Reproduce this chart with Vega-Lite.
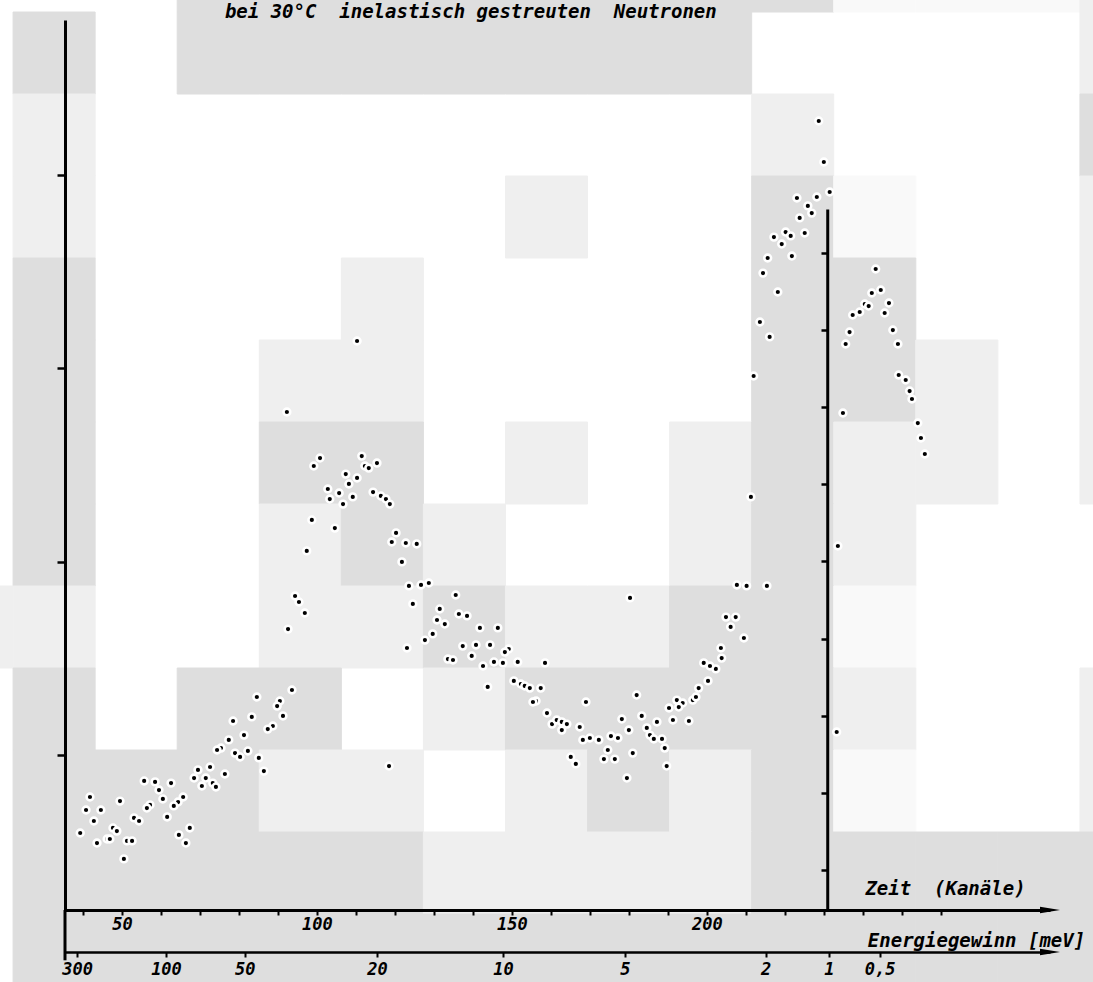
{
  "$schema": "https://vega.github.io/schema/vega-lite/v6.json",
  "width": 985,
  "height": 890,
  "autosize": {"type": "none"},
  "padding": {"left": 65, "top": 20, "right": 43, "bottom": 72},
  "background": "white",
  "view": {"stroke": null},
  "config": {
    "axis": {
      "domainColor": "black", "tickColor": "black", "labelColor": "black", "titleColor": "black",
      "grid": false, "labelFont": "DejaVu Sans Mono", "titleFont": "DejaVu Sans Mono",
      "labelFontStyle": "italic", "titleFontStyle": "italic", "labelFontWeight": "bold", "titleFontWeight": "bold"
    }
  },
  "datasets": {
    "bg": [
      {"col": 2, "row": 0, "shade": "D"}, {"col": 3, "row": 0, "shade": "D"}, {"col": 4, "row": 0, "shade": "D"}, {"col": 5, "row": 0, "shade": "D"}, {"col": 6, "row": 0, "shade": "D"}, {"col": 7, "row": 0, "shade": "D"}, {"col": 8, "row": 0, "shade": "D"}, {"col": 9, "row": 0, "shade": "D"}, {"col": 10, "row": 0, "shade": "F"}, {"col": 11, "row": 0, "shade": "F"}, {"col": 12, "row": 0, "shade": "F"}, {"col": 13, "row": 0, "shade": "L"},
      {"col": 0, "row": 1, "shade": "D"}, {"col": 2, "row": 1, "shade": "D"}, {"col": 3, "row": 1, "shade": "D"}, {"col": 4, "row": 1, "shade": "D"}, {"col": 5, "row": 1, "shade": "D"}, {"col": 6, "row": 1, "shade": "D"}, {"col": 7, "row": 1, "shade": "D"}, {"col": 8, "row": 1, "shade": "D"}, {"col": 13, "row": 1, "shade": "L"},
      {"col": 0, "row": 2, "shade": "L"}, {"col": 9, "row": 2, "shade": "L"}, {"col": 13, "row": 2, "shade": "D"},
      {"col": 0, "row": 3, "shade": "L"}, {"col": 6, "row": 3, "shade": "L"}, {"col": 9, "row": 3, "shade": "D"}, {"col": 10, "row": 3, "shade": "F"}, {"col": 13, "row": 3, "shade": "L"},
      {"col": 0, "row": 4, "shade": "D"}, {"col": 4, "row": 4, "shade": "L"}, {"col": 9, "row": 4, "shade": "D"}, {"col": 10, "row": 4, "shade": "D"}, {"col": 13, "row": 4, "shade": "L"},
      {"col": 0, "row": 5, "shade": "D"}, {"col": 3, "row": 5, "shade": "L"}, {"col": 4, "row": 5, "shade": "L"}, {"col": 9, "row": 5, "shade": "D"}, {"col": 10, "row": 5, "shade": "D"}, {"col": 11, "row": 5, "shade": "L"}, {"col": 13, "row": 5, "shade": "L"},
      {"col": 0, "row": 6, "shade": "D"}, {"col": 3, "row": 6, "shade": "D"}, {"col": 4, "row": 6, "shade": "D"}, {"col": 6, "row": 6, "shade": "L"}, {"col": 8, "row": 6, "shade": "L"}, {"col": 9, "row": 6, "shade": "D"}, {"col": 10, "row": 6, "shade": "L"}, {"col": 11, "row": 6, "shade": "L"}, {"col": 13, "row": 6, "shade": "L"},
      {"col": 0, "row": 7, "shade": "D"}, {"col": 3, "row": 7, "shade": "L"}, {"col": 4, "row": 7, "shade": "D"}, {"col": 5, "row": 7, "shade": "L"}, {"col": 8, "row": 7, "shade": "L"}, {"col": 9, "row": 7, "shade": "D"}, {"col": 10, "row": 7, "shade": "L"},
      {"col": -1, "row": 8, "shade": "L"}, {"col": 0, "row": 8, "shade": "L"}, {"col": 3, "row": 8, "shade": "L"}, {"col": 4, "row": 8, "shade": "L"}, {"col": 5, "row": 8, "shade": "D"}, {"col": 6, "row": 8, "shade": "L"}, {"col": 7, "row": 8, "shade": "L"}, {"col": 8, "row": 8, "shade": "D"}, {"col": 9, "row": 8, "shade": "D"}, {"col": 10, "row": 8, "shade": "F"},
      {"col": 0, "row": 9, "shade": "D"}, {"col": 2, "row": 9, "shade": "D"}, {"col": 3, "row": 9, "shade": "D"}, {"col": 5, "row": 9, "shade": "L"}, {"col": 6, "row": 9, "shade": "D"}, {"col": 7, "row": 9, "shade": "D"}, {"col": 8, "row": 9, "shade": "D"}, {"col": 9, "row": 9, "shade": "D"}, {"col": 10, "row": 9, "shade": "L"}, {"col": 13, "row": 9, "shade": "L"},
      {"col": 0, "row": 10, "shade": "D"}, {"col": 1, "row": 10, "shade": "D"}, {"col": 2, "row": 10, "shade": "D"}, {"col": 3, "row": 10, "shade": "L"}, {"col": 4, "row": 10, "shade": "L"}, {"col": 6, "row": 10, "shade": "L"}, {"col": 7, "row": 10, "shade": "D"}, {"col": 8, "row": 10, "shade": "L"}, {"col": 9, "row": 10, "shade": "D"}, {"col": 10, "row": 10, "shade": "F"}, {"col": 13, "row": 10, "shade": "L"},
      {"col": 0, "row": 11, "shade": "D"}, {"col": 1, "row": 11, "shade": "D"}, {"col": 2, "row": 11, "shade": "D"}, {"col": 3, "row": 11, "shade": "D"}, {"col": 4, "row": 11, "shade": "D"}, {"col": 5, "row": 11, "shade": "L"}, {"col": 6, "row": 11, "shade": "L"}, {"col": 7, "row": 11, "shade": "L"}, {"col": 8, "row": 11, "shade": "L"}, {"col": 9, "row": 11, "shade": "D"}, {"col": 10, "row": 11, "shade": "D"}, {"col": 11, "row": 11, "shade": "D"}, {"col": 12, "row": 11, "shade": "D"}, {"col": 13, "row": 11, "shade": "D"},
      {"col": 0, "row": 12, "shade": "D"}, {"col": 1, "row": 12, "shade": "D"}, {"col": 2, "row": 12, "shade": "D"}, {"col": 3, "row": 12, "shade": "D"}, {"col": 4, "row": 12, "shade": "D"}, {"col": 5, "row": 12, "shade": "D"}, {"col": 6, "row": 12, "shade": "D"}, {"col": 7, "row": 12, "shade": "D"}, {"col": 8, "row": 12, "shade": "D"}, {"col": 9, "row": 12, "shade": "D"}, {"col": 10, "row": 12, "shade": "D"}, {"col": 11, "row": 12, "shade": "D"}, {"col": 12, "row": 12, "shade": "D"}, {"col": 13, "row": 12, "shade": "D"}
    ],
    "main": [
      {"ch": 93.6, "n": 113.7}, {"ch": 84.6, "n": 110.1}, {"ch": 90.5, "n": 108.0}, {"ch": 89.8, "n": 105.4}, {"ch": 91.3, "n": 100.3},
      {"ch": 88.7, "n": 95.1}, {"ch": 87.4, "n": 93.5}, {"ch": 83.3, "n": 99.8}, {"ch": 78.5, "n": 97.7}, {"ch": 81.3, "n": 90.4},
      {"ch": 77.4, "n": 87.9}, {"ch": 75.4, "n": 83.7}, {"ch": 74.4, "n": 82.7}, {"ch": 79.0, "n": 81.1}, {"ch": 80.3, "n": 79.1},
      {"ch": 82.3, "n": 82.2}, {"ch": 85.1, "n": 78.6}, {"ch": 86.4, "n": 71.8}, {"ch": 69.5, "n": 72.4}, {"ch": 72.6, "n": 73.9},
      {"ch": 76.4, "n": 70.3}, {"ch": 68.5, "n": 68.2}, {"ch": 71.5, "n": 68.2}, {"ch": 70.5, "n": 64.1}, {"ch": 73.3, "n": 65.6},
      {"ch": 74.1, "n": 63.6}, {"ch": 55.7, "n": 66.7}, {"ch": 58.5, "n": 66.2}, {"ch": 62.6, "n": 65.6}, {"ch": 59.5, "n": 62.0},
      {"ch": 65.7, "n": 58.4}, {"ch": 64.4, "n": 55.8}, {"ch": 63.3, "n": 53.8}, {"ch": 60.5, "n": 57.4}, {"ch": 57.2, "n": 54.3},
      {"ch": 56.4, "n": 52.7}, {"ch": 61.6, "n": 48.1}, {"ch": 53.1, "n": 47.6}, {"ch": 54.4, "n": 46.0}, {"ch": 41.8, "n": 58.4},
      {"ch": 49.5, "n": 56.3}, {"ch": 40.8, "n": 51.7}, {"ch": 44.6, "n": 51.7}, {"ch": 42.8, "n": 46.0}, {"ch": 39.3, "n": 39.8},
      {"ch": 47.7, "n": 42.4}, {"ch": 48.7, "n": 40.8}, {"ch": 46.2, "n": 36.7}, {"ch": 46.9, "n": 36.7}, {"ch": 43.6, "n": 34.6},
      {"ch": 51.3, "n": 35.7}, {"ch": 52.6, "n": 35.7}, {"ch": 50.5, "n": 26.4}, {"ch": 67.4, "n": 42.4}, {"ch": 64.6, "n": 38.8},
      {"ch": 66.4, "n": 34.6}, {"ch": 118.5, "n": 74.4}, {"ch": 94.4, "n": 162.3}, {"ch": 95.4, "n": 159.2}, {"ch": 96.9, "n": 153.5},
      {"ch": 92.6, "n": 145.2}, {"ch": 97.4, "n": 185.6}, {"ch": 98.7, "n": 201.6}, {"ch": 99.2, "n": 229.5}, {"ch": 100.8, "n": 233.6},
      {"ch": 111.5, "n": 234.6}, {"ch": 112.3, "n": 229.5}, {"ch": 113.3, "n": 228.4}, {"ch": 115.4, "n": 231.0}, {"ch": 107.4, "n": 225.3},
      {"ch": 110.3, "n": 223.3}, {"ch": 108.2, "n": 220.2}, {"ch": 102.8, "n": 217.6}, {"ch": 105.7, "n": 215.5}, {"ch": 103.3, "n": 212.4},
      {"ch": 109.2, "n": 213.5}, {"ch": 106.7, "n": 209.8}, {"ch": 114.4, "n": 216.0}, {"ch": 116.4, "n": 214.0}, {"ch": 117.7, "n": 212.4},
      {"ch": 118.7, "n": 209.8}, {"ch": 104.6, "n": 197.4}, {"ch": 120.3, "n": 194.9}, {"ch": 119.2, "n": 190.2}, {"ch": 122.8, "n": 189.7},
      {"ch": 125.6, "n": 189.2}, {"ch": 121.8, "n": 179.9}, {"ch": 123.6, "n": 167.5}, {"ch": 126.7, "n": 168.0}, {"ch": 128.7, "n": 169.0},
      {"ch": 135.6, "n": 162.8}, {"ch": 124.6, "n": 158.2}, {"ch": 131.5, "n": 155.6}, {"ch": 136.4, "n": 153.0}, {"ch": 138.5, "n": 152.0},
      {"ch": 130.8, "n": 149.9}, {"ch": 132.8, "n": 147.8}, {"ch": 129.7, "n": 142.7}, {"ch": 127.7, "n": 139.5}, {"ch": 123.1, "n": 135.4},
      {"ch": 141.8, "n": 145.8}, {"ch": 146.4, "n": 145.8}, {"ch": 137.4, "n": 136.4}, {"ch": 140.8, "n": 137.0}, {"ch": 144.4, "n": 137.0},
      {"ch": 149.2, "n": 134.9}, {"ch": 148.2, "n": 133.3}, {"ch": 133.6, "n": 129.7}, {"ch": 134.9, "n": 129.2}, {"ch": 139.7, "n": 131.3},
      {"ch": 142.6, "n": 126.1}, {"ch": 145.4, "n": 128.2}, {"ch": 147.7, "n": 127.7}, {"ch": 151.5, "n": 128.2}, {"ch": 158.5, "n": 127.7},
      {"ch": 143.8, "n": 115.3}, {"ch": 150.5, "n": 118.4}, {"ch": 152.3, "n": 116.8}, {"ch": 153.3, "n": 115.8}, {"ch": 154.6, "n": 114.7},
      {"ch": 157.4, "n": 114.7}, {"ch": 156.2, "n": 108.0}, {"ch": 155.4, "n": 107.5}, {"ch": 110.3, "n": 294.1}, {"ch": 92.3, "n": 257.4},
      {"ch": 159.0, "n": 101.8}, {"ch": 160.3, "n": 96.1}, {"ch": 161.5, "n": 98.2}, {"ch": 162.8, "n": 97.2}, {"ch": 162.8, "n": 93.0},
      {"ch": 164.1, "n": 96.1}, {"ch": 167.4, "n": 94.6}, {"ch": 168.2, "n": 87.9}, {"ch": 170.0, "n": 88.9}, {"ch": 172.3, "n": 87.9},
      {"ch": 175.4, "n": 89.9}, {"ch": 177.2, "n": 88.9}, {"ch": 174.6, "n": 82.7}, {"ch": 173.6, "n": 78.0}, {"ch": 176.4, "n": 78.0},
      {"ch": 165.1, "n": 79.1}, {"ch": 166.4, "n": 75.5}, {"ch": 179.5, "n": 68.2}, {"ch": 178.2, "n": 98.7}, {"ch": 182.0, "n": 111.1},
      {"ch": 183.3, "n": 100.3}, {"ch": 180.0, "n": 93.0}, {"ch": 184.6, "n": 94.1}, {"ch": 185.4, "n": 90.4}, {"ch": 186.4, "n": 88.4},
      {"ch": 188.5, "n": 88.4}, {"ch": 189.2, "n": 83.7}, {"ch": 187.2, "n": 97.2}, {"ch": 181.0, "n": 81.1}, {"ch": 189.7, "n": 74.4},
      {"ch": 191.3, "n": 98.2}, {"ch": 195.4, "n": 97.7}, {"ch": 190.3, "n": 104.4}, {"ch": 192.3, "n": 108.5}, {"ch": 193.8, "n": 107.0},
      {"ch": 192.8, "n": 104.9}, {"ch": 196.4, "n": 108.5}, {"ch": 197.2, "n": 110.1}, {"ch": 197.9, "n": 114.7}, {"ch": 200.3, "n": 118.4},
      {"ch": 202.3, "n": 124.6}, {"ch": 199.2, "n": 127.7}, {"ch": 200.8, "n": 126.1}, {"ch": 203.8, "n": 130.2}, {"ch": 203.6, "n": 135.4},
      {"ch": 206.1, "n": 146.3}, {"ch": 204.9, "n": 151.4}, {"ch": 207.4, "n": 151.4}, {"ch": 209.5, "n": 140.6}, {"ch": 207.7, "n": 168.0},
      {"ch": 210.2, "n": 167.5}, {"ch": 215.4, "n": 167.5}, {"ch": 180.3, "n": 161.3}, {"ch": 169.0, "n": 107.5}, {"ch": 211.3, "n": 213.5},
      {"ch": 212.0, "n": 276.0}, {"ch": 213.6, "n": 303.9}, {"ch": 216.1, "n": 296.2}, {"ch": 218.2, "n": 319.4}, {"ch": 214.4, "n": 329.2},
      {"ch": 215.6, "n": 337.0}, {"ch": 221.8, "n": 338.0}, {"ch": 219.2, "n": 344.2}, {"ch": 217.2, "n": 347.8}, {"ch": 220.2, "n": 350.4},
      {"ch": 221.5, "n": 348.4}, {"ch": 225.1, "n": 349.9}, {"ch": 223.8, "n": 357.7}, {"ch": 226.9, "n": 360.2}, {"ch": 225.9, "n": 363.9},
      {"ch": 223.1, "n": 368.0}, {"ch": 228.2, "n": 368.5}, {"ch": 231.5, "n": 371.1}, {"ch": 230.0, "n": 386.6}, {"ch": 228.7, "n": 407.8}
    ],
    "peak": [
      {"ch": 234.9, "n": 692.5}, {"ch": 233.6, "n": 520.1}, {"ch": 233.3, "n": 278.9}, {"ch": 235.6, "n": 782.0}, {"ch": 236.6, "n": 797.5},
      {"ch": 237.4, "n": 819.6}, {"ch": 239.2, "n": 823.5}, {"ch": 240.5, "n": 833.8}, {"ch": 241.5, "n": 831.2}, {"ch": 242.3, "n": 848.1},
      {"ch": 243.3, "n": 879.2}, {"ch": 244.6, "n": 852.0}, {"ch": 246.7, "n": 835.1}, {"ch": 245.6, "n": 822.2}, {"ch": 247.7, "n": 800.1},
      {"ch": 249.0, "n": 782.0}, {"ch": 249.2, "n": 741.8}, {"ch": 251.0, "n": 735.3}, {"ch": 252.0, "n": 721.0}, {"ch": 252.6, "n": 710.7},
      {"ch": 254.1, "n": 679.5}, {"ch": 254.9, "n": 660.1}, {"ch": 255.9, "n": 639.4}
    ],
    "lines": [
      {"ch": 231.0, "n0": 0, "n1": 362},
      {"ch": 35.4, "n0": -26, "n1": 0}
    ],
    "arrows": [
      {"ch": 288, "n": 0},
      {"ch": 288, "n": -21.7}
    ],
    "heading": [
      {"ch": 76.4, "n": 464.1, "label": "bei 30°C\u00a0 inelastisch gestreuten\u00a0 Neutronen"}
    ]
  },
  "layer": [
    {
      "data": {"name": "bg"},
      "mark": {"type": "rect", "strokeWidth": 1},
      "encoding": {
        "x": {"field": "col", "type": "ordinal", "scale": {"domain": [-1, 0, 1, 2, 3, 4, 5, 6, 7, 8, 9, 10, 11, 12, 13], "range": [-134, 1097], "paddingInner": 0, "paddingOuter": 0}, "axis": null},
        "y": {"field": "row", "type": "ordinal", "scale": {"domain": [0, 1, 2, 3, 4, 5, 6, 7, 8, 9, 10, 11, 12], "range": [-90, 976], "paddingInner": 0, "paddingOuter": 0}, "axis": null},
        "color": {"field": "shade", "type": "nominal", "scale": {"domain": ["D", "L", "F"], "range": ["#dedede", "#efefef", "#f9f9f9"]}, "legend": null},
        "stroke": {"field": "shade", "type": "nominal", "scale": {"domain": ["D", "L", "F"], "range": ["#dedede", "#efefef", "#f9f9f9"]}, "legend": null}
      }
    },
    {
      "data": {"name": "lines"},
      "mark": {"type": "rule", "color": "black", "strokeWidth": 3},
      "encoding": {
        "x": {
          "field": "ch", "type": "quantitative",
          "scale": {"domain": [35.4, 288], "nice": false, "zero": false},
          "axis": {
            "orient": "bottom", "offset": 42, "zindex": 2,
            "values": [38.5, 61.3, 81.5, 115.4, 147.7, 179.0, 215.1, 231.3, 244.3],
            "labelExpr": "datum.value < 50 ? '300' : datum.value < 70 ? '100' : datum.value < 100 ? '50' : datum.value < 130 ? '20' : datum.value < 160 ? '10' : datum.value < 200 ? '5' : datum.value < 225 ? '2' : datum.value < 238 ? '1' : '0,5'",
            "domainWidth": 2.5, "tickWidth": 2, "tickSize": 5,
            "labelFontSize": 17, "labelPadding": 4, "labelOverlap": false, "labelFlush": false,
            "title": "Energiegewinn [meV]", "titleX": 911, "titleY": -12, "titleAlign": "center", "titleBaseline": "middle", "titleFontSize": 19
          }
        },
        "y": {"field": "n0", "type": "quantitative", "scale": {"domain": [0, 460], "nice": false, "zero": false}, "axis": null},
        "y2": {"field": "n1"}
      }
    },
    {
      "data": {"name": "main"},
      "mark": {"type": "circle", "size": 46, "fill": "black", "stroke": "white", "strokeWidth": 2.6, "opacity": 1},
      "encoding": {
        "x": {
          "field": "ch", "type": "quantitative",
          "scale": {"domain": [35.4, 288], "nice": false, "zero": false},
          "axis": {
            "orient": "bottom", "zindex": 2,
            "values": [40, 50, 60, 70, 80, 90, 100, 110, 120, 130, 140, 150, 160, 170, 180, 190, 200, 210, 220, 230, 240, 250, 260],
            "labelExpr": "datum.value % 50 == 0 && datum.value <= 200 ? datum.label : ''",
            "domainWidth": 3, "tickWidth": 2, "tickSize": 5,
            "labelFontSize": 17, "labelPadding": 1, "labelOverlap": false, "labelFlush": false,
            "title": "Zeit\u00a0 (Kanäle)", "titleX": 880, "titleY": -22, "titleAlign": "center", "titleBaseline": "middle", "titleFontSize": 19
          }
        },
        "y": {
          "field": "n", "type": "quantitative",
          "scale": {"domain": [0, 460], "nice": false, "zero": false},
          "axis": {"orient": "left", "zindex": 2, "values": [80, 180, 280, 380], "labels": false, "title": null, "domainWidth": 3, "tickWidth": 2.5, "tickSize": 8}
        }
      }
    },
    {
      "data": {"name": "peak"},
      "mark": {"type": "circle", "size": 46, "fill": "black", "stroke": "white", "strokeWidth": 2.6, "opacity": 1},
      "encoding": {
        "x": {"field": "ch", "type": "quantitative", "scale": {"domain": [35.4, 288], "nice": false, "zero": false}, "axis": null},
        "y": {
          "field": "n", "type": "quantitative",
          "scale": {"domain": [48.1, 1202.1], "nice": false, "zero": false},
          "axis": {"orient": "left", "zindex": 2, "offset": -763, "values": [100, 200, 300, 400, 500, 600, 700, 800, 900], "labels": false, "domain": false, "title": null, "tickWidth": 2.5, "tickSize": 7}
        }
      }
    },
    {
      "data": {"name": "arrows"},
      "mark": {"type": "point", "shape": "M-1,-0.32L1,0L-1,0.32Z", "filled": true, "size": 400, "color": "black", "opacity": 1},
      "encoding": {
        "x": {"field": "ch", "type": "quantitative", "scale": {"domain": [35.4, 288], "nice": false, "zero": false}, "axis": null},
        "y": {"field": "n", "type": "quantitative", "scale": {"domain": [0, 460], "nice": false, "zero": false}, "axis": null}
      }
    },
    {
      "data": {"name": "heading"},
      "mark": {"type": "text", "align": "left", "baseline": "middle", "font": "DejaVu Sans Mono", "fontStyle": "italic", "fontWeight": "bold", "fontSize": 19, "color": "black"},
      "encoding": {
        "x": {"field": "ch", "type": "quantitative", "scale": {"domain": [35.4, 288], "nice": false, "zero": false}, "axis": null},
        "y": {"field": "n", "type": "quantitative", "scale": {"domain": [0, 460], "nice": false, "zero": false}, "axis": null},
        "text": {"field": "label"}
      }
    }
  ],
  "resolve": {
    "scale": {"x": "independent", "y": "independent", "color": "independent", "stroke": "independent"},
    "axis": {"x": "independent", "y": "independent"}
  }
}
